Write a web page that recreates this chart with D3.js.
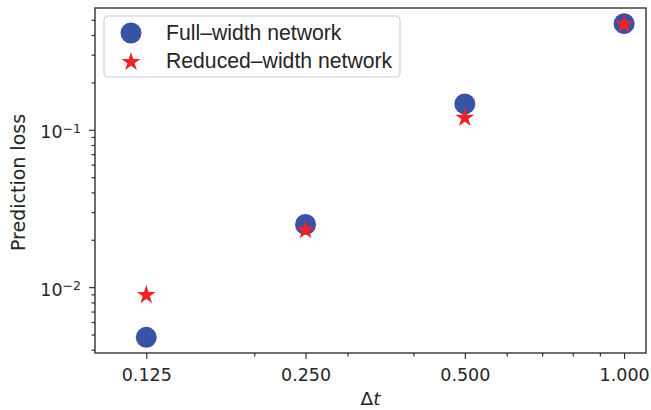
<!DOCTYPE html>
<html>
<head>
<meta charset="utf-8">
<script src="https://cdn.jsdelivr.net/npm/d3@7"></script>
<style>
  html, body { margin: 0; padding: 0; background: #fff; }
  svg { display: block; font-family: "DejaVu Sans", sans-serif; }
</style>
</head>
<body>
<svg id="chart" width="651" height="410"></svg>
<script>
// Time step sizes and prediction losses for the two networks
const dt = [0.125, 0.25, 0.5, 1.0];
const fullWidth = [0.0048, 0.025, 0.146, 0.472];
const reducedWidth = [0.0089, 0.023, 0.119, 0.467];

const xMajorTicks = [0.125, 0.25, 0.5, 1.0];
const xMinorTicks = [0.2, 0.3, 0.4, 0.6, 0.7, 0.8, 0.9];
const yMajorTicks = [0.01, 0.1];
const yMajorLabels = [["10", "\u22122"], ["10", "\u22121"]];
const yMinorTicks = [0.004, 0.005, 0.006, 0.007, 0.008, 0.009,
                     0.02, 0.03, 0.04, 0.05, 0.06, 0.07, 0.08, 0.09,
                     0.2, 0.3, 0.4, 0.5];

const seriesNames = ["Full\u2013width network", "Reduced\u2013width network"];
const blue = "#3953a4";
const red = "#ee2429";
const ink = "#262626";

const svg = d3.select("#chart");
const plot = { left: 95, right: 646, top: 8, bottom: 353 };

// y extent: data range padded by 5% in log space
const allY = fullWidth.concat(reducedWidth);
const lo = Math.log10(d3.min(allY)), hi = Math.log10(d3.max(allY));
const pad = (hi - lo) * 0.05;

const x = d3.scaleLog().domain([0.1, 1.1]).range([plot.left, plot.right]);
const y = d3.scaleLog().domain([Math.pow(10, lo - pad), Math.pow(10, hi + pad)])
  .range([plot.bottom, plot.top]);

// minor ticks
svg.append("g")
  .attr("transform", `translate(0,${plot.bottom})`)
  .call(d3.axisBottom(x).tickValues(xMinorTicks).tickSize(3.5).tickFormat(""))
  .call(g => g.select(".domain").remove());
svg.append("g")
  .attr("transform", `translate(${plot.left},0)`)
  .call(d3.axisLeft(y).tickValues(yMinorTicks).tickSize(3.5).tickFormat(""))
  .call(g => g.select(".domain").remove());

// major x axis
const gx = svg.append("g")
  .attr("transform", `translate(0,${plot.bottom})`)
  .call(d3.axisBottom(x).tickValues(xMajorTicks).tickSize(6).tickPadding(10)
    .tickFormat(d3.format(".3f")));
gx.select(".domain").remove();
gx.selectAll("text").attr("font-size", 17.5).attr("fill", ink)
  .attr("font-family", "DejaVu Sans");

// major y axis with power-of-ten labels
const gy = svg.append("g")
  .attr("transform", `translate(${plot.left},0)`)
  .call(d3.axisLeft(y).tickValues(yMajorTicks).tickSize(6).tickPadding(8)
    .tickFormat(""));
gy.select(".domain").remove();
gy.selectAll(".tick").each(function(d, i) {
  const t = d3.select(this).select("text")
    .attr("font-size", 17.5).attr("fill", ink).attr("dy", "0.45em")
    .attr("font-family", "DejaVu Sans");
  t.text(null);
  t.append("tspan").text(yMajorLabels[i][0]);
  t.append("tspan").attr("dy", "-0.45em").attr("font-size", 12.5).text(yMajorLabels[i][1]);
});

svg.selectAll(".tick line").attr("stroke", "#333").attr("stroke-width", 1.2);

// frame
svg.append("rect")
  .attr("x", plot.left).attr("y", plot.top)
  .attr("width", plot.right - plot.left).attr("height", plot.bottom - plot.top)
  .attr("fill", "none").attr("stroke", "#333").attr("stroke-width", 1.4);

// star path with outer radius r
function starPath(r) {
  const inner = r * 0.381966;
  const pts = [];
  for (let k = 0; k < 10; k++) {
    const rad = k % 2 === 0 ? r : inner;
    const a = -Math.PI / 2 + k * Math.PI / 5;
    pts.push([rad * Math.cos(a), rad * Math.sin(a)]);
  }
  return "M" + pts.map(p => p[0].toFixed(2) + "," + p[1].toFixed(2)).join("L") + "Z";
}

// markers
svg.append("g").selectAll("circle")
  .data(dt.map((d, i) => [d, fullWidth[i]]))
  .join("circle")
  .attr("cx", d => x(d[0])).attr("cy", d => y(d[1]))
  .attr("r", 10.5).attr("fill", blue);

svg.append("g").selectAll("path")
  .data(dt.map((d, i) => [d, reducedWidth[i]]))
  .join("path")
  .attr("transform", d => `translate(${x(d[0])},${y(d[1])})`)
  .attr("d", starPath(10)).attr("fill", red);

// axis titles
svg.append("text")
  .attr("x", (plot.left + plot.right) / 2).attr("y", 405)
  .attr("text-anchor", "middle").attr("font-size", 18.5).attr("fill", ink)
  .call(t => {
    t.append("tspan").text("\u0394");
    t.append("tspan").attr("font-style", "italic").text("t");
  });

svg.append("text")
  .attr("transform", `translate(25,${(plot.top + plot.bottom) / 2 + 2}) rotate(-90)`)
  .attr("text-anchor", "middle").attr("font-size", 19).attr("fill", ink)
  .text("Prediction loss");

// legend
const lg = svg.append("g");
lg.append("rect")
  .attr("x", 104).attr("y", 16).attr("width", 296).attr("height", 61)
  .attr("rx", 4).attr("fill", "#fff").attr("fill-opacity", 0.8)
  .attr("stroke", "#cccccc").attr("stroke-width", 1.2);
lg.append("circle").attr("cx", 131).attr("cy", 33).attr("r", 10.5).attr("fill", blue);
lg.append("path").attr("transform", "translate(131,62)").attr("d", starPath(10)).attr("fill", red);
lg.selectAll("text.entry")
  .data(seriesNames)
  .join("text")
  .attr("class", "entry")
  .attr("x", 166).attr("y", (d, i) => 39.5 + i * 28.5)
  .attr("font-family", "Liberation Sans, Arial, sans-serif")
  .attr("font-size", 21.2).attr("fill", ink)
  .text(d => d);
</script>
</body>
</html>
